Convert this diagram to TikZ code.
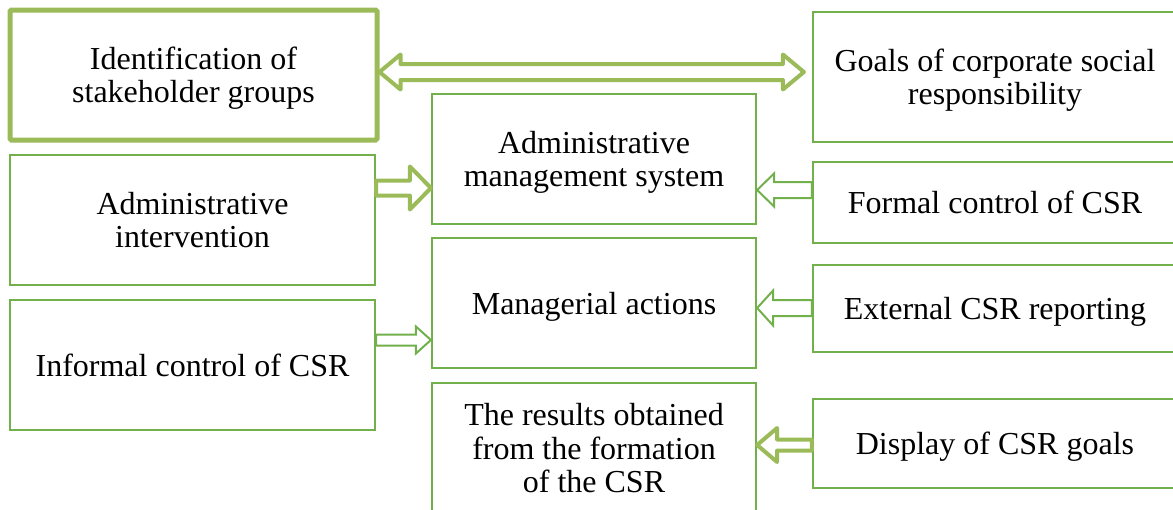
\documentclass[tikz,border=0pt]{standalone}
\usepackage{fontspec}
\setmainfont{Liberation Serif}
\usetikzlibrary{calc}
\definecolor{lgreen}{HTML}{9BBB59}
\definecolor{bgreen}{HTML}{72B04C}
\tikzset{
 box/.style={draw=bgreen, line width=2.2pt, minimum height=130pt, align=center, inner sep=0pt, font=\fontsize{32}{33.5}\selectfont, text height=22pt, text depth=0pt},
 twolines/.style={text height=55.5pt},
 threelines/.style={text height=89pt},
 thickbox/.style={box, draw=lgreen, line width=5pt, rounded corners=1.5pt},
 thinarrow/.style={draw=bgreen, line width=2pt, line join=miter},
 thickarrow/.style={draw=lgreen, line width=4pt, line join=round},
}
\newcommand\blkarrow[6]{%
 \draw[#1] let \p1=(#2), \p2=(#3), \n1={sign(\x2-\x1)} in
 (\x1,\y1+#4) -- ({\x2-\n1*#6},\y1+#4) -- ({\x2-\n1*#6},\y1+#5) -- (\x2,\y1) -- ({\x2-\n1*#6},\y1-#5) -- ({\x2-\n1*#6},\y1-#4) -- (\x1,\y1-#4) -- cycle;}
\begin{document}
\begin{tikzpicture}[x=1pt,y=-1pt]
\useasboundingbox (0,0) rectangle (1173,509);
\clip (0,0) rectangle (1173,509);
\node[thickbox, twolines, minimum width=367pt] (idbox) at (193.5,75) {Identification of\\stakeholder groups};
\node[box, twolines, minimum width=364pt] (goals) at (995,77) {Goals of corporate social\\responsibility};
\node[box, twolines, minimum width=324pt] (am) at (594,159) {Administrative\\management system};
\node[box, twolines, minimum width=365pt] (ai) at (192.5,220) {Administrative\\intervention};
\node[box, minimum width=364pt, minimum height=81pt] (fc) at (995,202.5) {Formal control of CSR};
\node[box, minimum width=324pt] (ma) at (594,303) {Managerial actions};
\node[box, minimum width=364pt, minimum height=87pt] (ext) at (995,308.5) {External CSR reporting};
\node[box, minimum width=365pt] (inf) at (192.5,365) {Informal control of CSR};
\node[box, threelines, minimum width=324pt] (res) at (594,448) {The results obtained\\from the formation\\of the CSR};
\node[box, minimum width=364pt, minimum height=89pt] (disp) at (995,443.5) {Display of CSR goals};
% double arrow
\coordinate (dl) at (idbox.east |- 0,72);
\coordinate (dr) at ($(goals.west |- 0,72)+(-8,0)$);
\draw[thickarrow] let \p1=(dl), \p2=(dr) in
 (\x1,\y1) -- (\x1+21,\y1+17.5) -- (\x1+21,\y1+8) -- (\x2-21,\y1+8) -- (\x2-21,\y1+17.5) -- (\x2,\y1)
 -- (\x2-21,\y1-17.5) -- (\x2-21,\y1-8) -- (\x1+21,\y1-8) -- (\x1+21,\y1-17.5) -- cycle;
\blkarrow{thickarrow}{ai.east |- 0,188}{am.west |- 0,188}{7.5}{21.5}{21}
\blkarrow{thinarrow}{fc.west |- 0,190}{am.east |- 0,190}{8}{16.5}{17}
\blkarrow{thinarrow}{inf.east |- 0,340}{ma.west |- 0,340}{5.5}{13.5}{15}
\blkarrow{thinarrow}{ext.west |- 0,308}{ma.east |- 0,308}{8}{17.5}{16}
\blkarrow{thickarrow}{disp.west |- 0,445}{res.east |- 0,445}{5.5}{17}{20}
\end{tikzpicture}
\end{document}
